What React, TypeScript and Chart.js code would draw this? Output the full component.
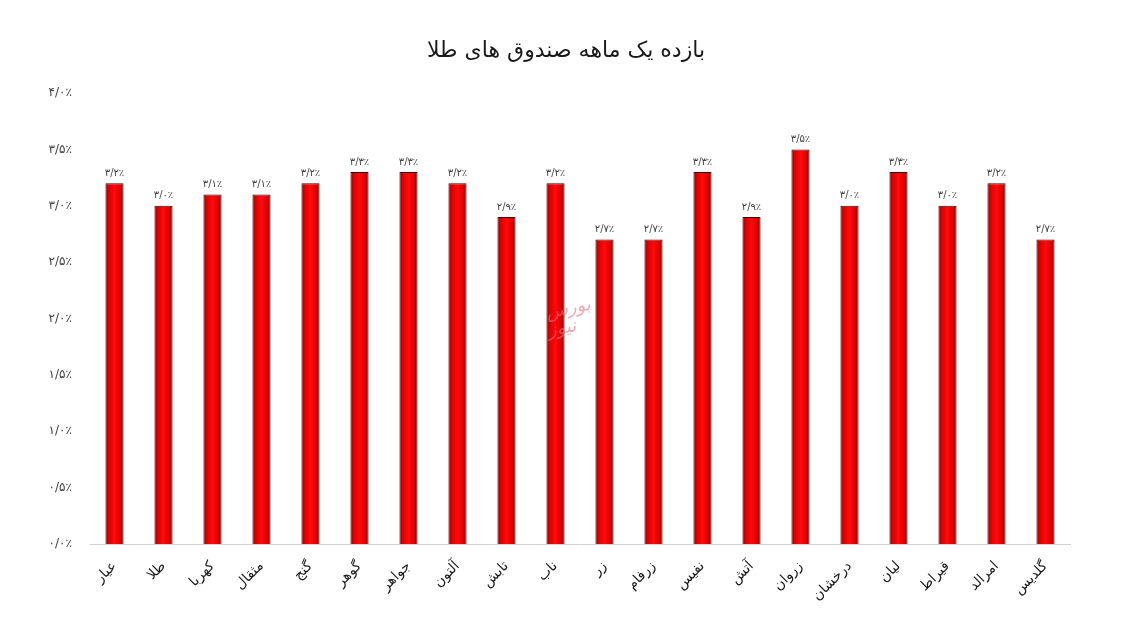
import React, { useEffect, useRef } from "react";
import { Chart, registerables } from "chart.js";

Chart.register(...registerables);

const categories = [
  "عیار", "طلا", "کهربا", "مثقال", "گنج", "گوهر", "جواهر", "آلتون", "تابش", "ناب",
  "زر", "زرفام", "نفیس", "آتش", "زروان", "درخشان", "لیان", "قیراط", "امرالد", "گلدیس",
];
const returns = [3.2, 3.0, 3.1, 3.1, 3.2, 3.3, 3.3, 3.2, 2.9, 3.2, 2.7, 2.7, 3.3, 2.9, 3.5, 3.0, 3.3, 3.0, 3.2, 2.7];
const yTicks = [0, 0.5, 1, 1.5, 2, 2.5, 3, 3.5, 4];
const titleText = "بازده یک ماهه صندوق های طلا";
const watermarkLines = ["بورس", "نیوز"];

const FA = "۰۱۲۳۴۵۶۷۸۹";
const toFa = (s: string) => s.replace(/[0-9]/g, (d) => FA[+d]);
const fmt = (v: number) => toFa(v.toFixed(1)).replace(".", "/") + "٪";

const FONT = "'DejaVu Sans', 'Noto Sans', sans-serif";

const extras = {
  id: "extras",
  afterDatasetsDraw(chart: any) {
    const ctx = chart.ctx;
    const meta = chart.getDatasetMeta(0);
    ctx.save();
    // title
    ctx.font = `22px ${FONT}`;
    ctx.fillStyle = "#1a1a1a";
    ctx.textAlign = "center";
    ctx.textBaseline = "middle";
    ctx.fillText(titleText, 566, 51);
    // value labels
    ctx.font = `10px ${FONT}`;
    ctx.fillStyle = "#404040";
    ctx.textAlign = "center";
    ctx.textBaseline = "bottom";
    meta.data.forEach((el: any, i: number) => {
      ctx.fillText(fmt(returns[i]), el.x, el.y - 5);
    });
    // watermark
    ctx.translate(566, 318);
    ctx.rotate(-0.2);
    ctx.font = `italic 18px ${FONT}`;
    ctx.fillStyle = "rgba(225,110,130,0.6)";
    ctx.textAlign = "center";
    ctx.textBaseline = "middle";
    ctx.fillText(watermarkLines[0], 4, -8);
    ctx.fillText(watermarkLines[1], -6, 10);
    ctx.restore();
  },
};

export default function App() {
  const ref = useRef<HTMLCanvasElement>(null);
  useEffect(() => {
    document.body.style.margin = "0";
    const canvas = ref.current!;
    const chart = new Chart(canvas, {
      type: "bar",
      data: {
        labels: categories,
        datasets: [
          {
            data: returns,
            borderColor: "#450000",
            borderWidth: 1,
            barPercentage: 0.37,
            categoryPercentage: 1,
            backgroundColor: (c: any) => {
              const ch = c.chart;
              const xs = ch.scales && ch.scales.x;
              if (!xs || c.dataIndex === undefined) return "#ee0000";
              const cx = xs.getPixelForValue(c.dataIndex);
              if (!isFinite(cx)) return "#ee0000";
              const w = 9;
              const g = ch.ctx.createLinearGradient(cx - w, 0, cx + w, 0);
              g.addColorStop(0, "#700000");
              g.addColorStop(0.15, "#d80000");
              g.addColorStop(0.5, "#ff0a0a");
              g.addColorStop(0.85, "#d80000");
              g.addColorStop(1, "#700000");
              return g;
            },
          },
        ],
      },
      options: {
        animation: false,
        responsive: false,
        maintainAspectRatio: false,
        layout: { padding: { left: 0, right: 62, top: 93, bottom: 0 } },
        plugins: {
          legend: { display: false },
          tooltip: { enabled: false },
          title: { display: false },
        },
        scales: {
          x: {
            grid: { display: false },
            border: { display: true, color: "#d0d0d0" },
            ticks: {
              color: "#1a1a1a",
              font: { family: FONT, size: 14 },
              minRotation: 45,
              maxRotation: 45,
              autoSkip: false,
              padding: 6,
            },
            afterFit: (s: any) => {
              s.height = 92;
            },
          },
          y: {
            min: 0,
            max: 4,
            grid: { display: false },
            border: { display: false },
            afterBuildTicks: (s: any) => {
              s.ticks = yTicks.map((v) => ({ value: v }));
            },
            ticks: {
              color: "#404040",
              font: { family: FONT, size: 12 },
              padding: 10,
              callback: (v: any) => fmt(Number(v)),
            },
            afterFit: (s: any) => {
              s.width = 90;
            },
          },
        },
      },
      plugins: [extras],
    } as any);
    return () => chart.destroy();
  }, []);
  return (
    <div style={{ width: 1132, height: 636, background: "#fff" }}>
      <canvas ref={ref} width={1132} height={636} style={{ display: "block" }} />
    </div>
  );
}
